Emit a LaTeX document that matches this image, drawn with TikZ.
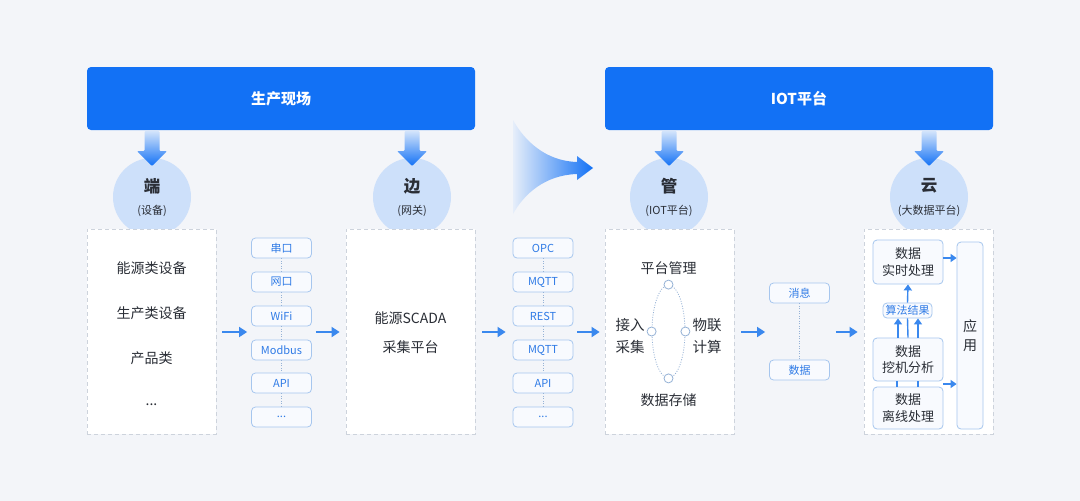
\documentclass[tikz,border=0pt]{standalone}
\usepackage{fontspec}
\setmainfont{Noto Sans CJK SC}
\usetikzlibrary{arrows.meta,calc,shapes.geometric}
\definecolor{bgc}{HTML}{F3F5F9}
\definecolor{barc}{HTML}{1271F5}
\definecolor{circc}{HTML}{CDE0FA}
\definecolor{dashc}{HTML}{CDD3DC}
\definecolor{pborder}{HTML}{A6C6EE}
\definecolor{pfill}{HTML}{F8FAFE}
\definecolor{ptext}{HTML}{2F7BE6}
\definecolor{txtc}{HTML}{2A2E36}
\definecolor{arrc}{HTML}{3A88EE}
\definecolor{shlight}{HTML}{D3E4FB}
\begin{document}
\begin{tikzpicture}[x=1pt,y=-1pt,
  topbar/.style={fill=barc,rounded corners=4pt,minimum width=388pt,minimum height=63pt,text=white,font=\fontsize{15}{18}\selectfont\bfseries,inner sep=0pt},
  circnode/.style={circle,fill=circc,minimum size=78pt,inner sep=0pt},
  ctitle/.style={text=txtc,font=\fontsize{16.5}{18}\selectfont\bfseries,inner sep=0pt},
  csub/.style={text=txtc,font=\fontsize{11}{12}\selectfont,inner sep=0pt},
  dbox/.style={fill=white,draw=dashc,dash pattern=on 4pt off 3pt,line width=0.8pt,minimum width=129pt,minimum height=205pt,inner sep=0pt},
  btext/.style={text=txtc,font=\fontsize{14}{16}\selectfont,inner sep=0pt,align=center},
  proto/.style={rounded corners=4pt,draw=pborder,fill=pfill,line width=0.8pt,minimum width=60pt,minimum height=20pt,inner sep=0pt,text=ptext,font=\fontsize{11}{13}\selectfont},
  ibox/.style={rounded corners=4pt,draw=pborder,fill=pfill,line width=0.8pt,inner sep=0pt,text=txtc,font=\fontsize{13}{16.5}\selectfont,align=center},
  dotline/.style={draw=pborder!90!black,line width=0.8pt,dash pattern=on 1pt off 1.5pt},
  flow/.style={draw=arrc,line width=1.8pt,-{Triangle[length=8pt,width=10pt]}},
  sflow/.style={draw=arrc,line width=1.4pt,-{Triangle[length=6pt,width=8pt]}},
  sline/.style={draw=arrc,line width=1.4pt},
  smallc/.style={circle,draw=pborder!90!black,fill=white,line width=0.8pt,minimum size=9pt,inner sep=0pt}
]
\fill[bgc] (0,0) rectangle (1080,501);
\useasboundingbox (0,0) rectangle (1080,501);

% top bars
\node[topbar] (bar1) at (281,98.5) {生产现场};
\node[topbar] (bar2) at (799,98.5) {IOT平台};

% circles
\node[circnode] (c1) at (152,197) {};
\node[circnode] (c2) at (412,197) {};
\node[circnode] (c3) at (669,197) {};
\node[circnode] (c4) at (929,197) {};
\node[ctitle] (c1a) at (152,186) {端};
\node[csub] (c1b) at (152,211) {(设备)};
\node[ctitle] (c2a) at (412,186) {边};
\node[csub] (c2b) at (412,211) {(网关)};
\node[ctitle] (c3a) at (669,186) {管};
\node[csub] (c3b) at (669,211) {(IOT平台)};
\node[ctitle] (c4a) at (929,186) {云};
\node[csub] (c4b) at (929,211) {(大数据平台)};

% down arrows
\foreach \cx in {152,412,669,929}{
  \shade[top color=shlight,bottom color=barc,rounded corners=1pt]
    (\cx-7.5,131) -- (\cx+7.5,131) -- (\cx+7.5,151) -- (\cx+15,151) -- (\cx,166)
    -- (\cx-15,151) -- (\cx-7.5,151) -- cycle;
}

% central swoosh
\shade[left color=bgc!60!shlight,right color=barc]
  (513,120) .. controls (524,140) and (545,161) .. (577,162)
  -- (577,156) -- (593,168) -- (577,180) -- (577,174)
  .. controls (545,175) and (524,194) .. (513,214) -- cycle;

% dashed boxes
\node[dbox] (b1) at (151.5,331.5) {};
\node[dbox] (b2) at (410.5,331.5) {};
\node[dbox] (b3) at (669.5,331.5) {};
\node[dbox] (b4) at (928.5,331.5) {};

% box 1 text
\node[btext] (t11) at (151.5,268) {能源类设备};
\node[btext] (t12) at (151.5,313) {生产类设备};
\node[btext] (t13) at (151.5,358) {产品类};
\node[btext] (t14) at (151.5,405) {...};

% box 2 text
\node[btext] (t21) at (410.5,318) {能源SCADA};
\node[btext] (t22) at (410.5,347) {采集平台};

% protocol column 1
\node[proto] (p1) at (281.5,248) {串口};
\node[proto] (p2) at (281.5,282) {网口};
\node[proto] (p3) at (281.5,316) {WiFi};
\node[proto] (p4) at (281.5,350) {Modbus};
\node[proto] (p5) at (281.5,383) {API};
\node[proto] (p6) at (281.5,417) {...};
\foreach \a/\b in {p1/p2,p2/p3,p3/p4,p4/p5,p5/p6}{\draw[dotline] (\a.south) -- (\b.north);}

% protocol column 2
\node[proto] (q1) at (543,248) {OPC};
\node[proto] (q2) at (543,282) {MQTT};
\node[proto] (q3) at (543,316) {REST};
\node[proto] (q4) at (543,350) {MQTT};
\node[proto] (q5) at (543,383) {API};
\node[proto] (q6) at (543,417) {...};
\foreach \a/\b in {q1/q2,q2/q3,q3/q4,q4/q5,q5/q6}{\draw[dotline] (\a.south) -- (\b.north);}

% box 3 content
\node[btext] (t31) at (668.5,268) {平台管理};
\node[btext] (t34) at (668.5,400) {数据存储};
\node[ellipse,dotline,minimum width=33pt,minimum height=93pt,inner sep=0pt] (el) at (668.5,331.5) {};
\node[smallc] (e1) at (el.north) {};
\node[smallc] (e2) at (el.south) {};
\node[smallc] (e3) at (el.west) {};
\node[smallc] (e4) at (el.east) {};
\node[btext,font=\fontsize{14.5}{22}\selectfont] (t32) at (630,336) {接入\\采集};
\node[btext,font=\fontsize{14.5}{22}\selectfont] (t33) at (707,336) {物联\\计算};

% message / data
\node[proto] (m1) at (799.5,293) {消息};
\node[proto] (m2) at (799.5,370) {数据};
\draw[dotline] (m1.south) -- (m2.north);

% flow arrows
\coordinate (ay) at (0,332);
\draw[flow,shorten <=6pt,shorten >=4pt] (b1.east |- ay) -- (p3.west |- ay);
\draw[flow,shorten <=4pt,shorten >=6pt] (p3.east |- ay) -- (b2.west |- ay);
\draw[flow,shorten <=7pt,shorten >=7pt] (b2.east |- ay) -- (q3.west |- ay);
\draw[flow,shorten <=4pt,shorten >=5pt] (q3.east |- ay) -- (b3.west |- ay);
\draw[flow,shorten <=7pt,shorten >=4pt] (b3.east |- ay) -- (m1.west |- ay);
\draw[flow,shorten <=6pt,shorten >=6pt] (m1.east |- ay) -- (b4.west |- ay);

% box 4 content
\node[ibox,minimum width=70pt,minimum height=44pt] (d1) at (908,262) {数据\\实时处理};
\node[ibox,minimum width=49pt,minimum height=15pt,text=ptext,font=\fontsize{11}{13}\selectfont] (d2) at (907.5,310.5) {算法结果};
\node[ibox,minimum width=70pt,minimum height=43pt] (d3) at (908,359.5) {数据\\挖机分析};
\node[ibox,minimum width=70pt,minimum height=42pt] (d4) at (908,408) {数据\\离线处理};
\node[ibox,minimum width=26pt,minimum height=187pt,font=\fontsize{14}{19}\selectfont] (app) at (970,335.5) {应\\用};

\draw[sflow] (d2.north) -- (d1.south);
\draw[sline] (d3.north) -- (d2.south);
\draw[sflow] ([xshift=-10pt]d3.north) -- ([xshift=-10pt]d3.north |- d2.south);
\draw[sflow] ([xshift=10pt]d3.north) -- ([xshift=10pt]d3.north |- d2.south);
\draw[sline] ([xshift=-11pt]d3.south) -- ([xshift=-11pt]d4.north);
\draw[sline] ([xshift=10pt]d3.south) -- ([xshift=10pt]d4.north);
\draw[sflow] ([yshift=4pt]d1.east) -- ([yshift=4pt]d1.east -| app.west);
\coordinate (mid34) at ($(d3.south east)!0.5!(d4.north east)$);
\draw[sflow] (mid34) -- (mid34 -| app.west);
\end{tikzpicture}
\end{document}
